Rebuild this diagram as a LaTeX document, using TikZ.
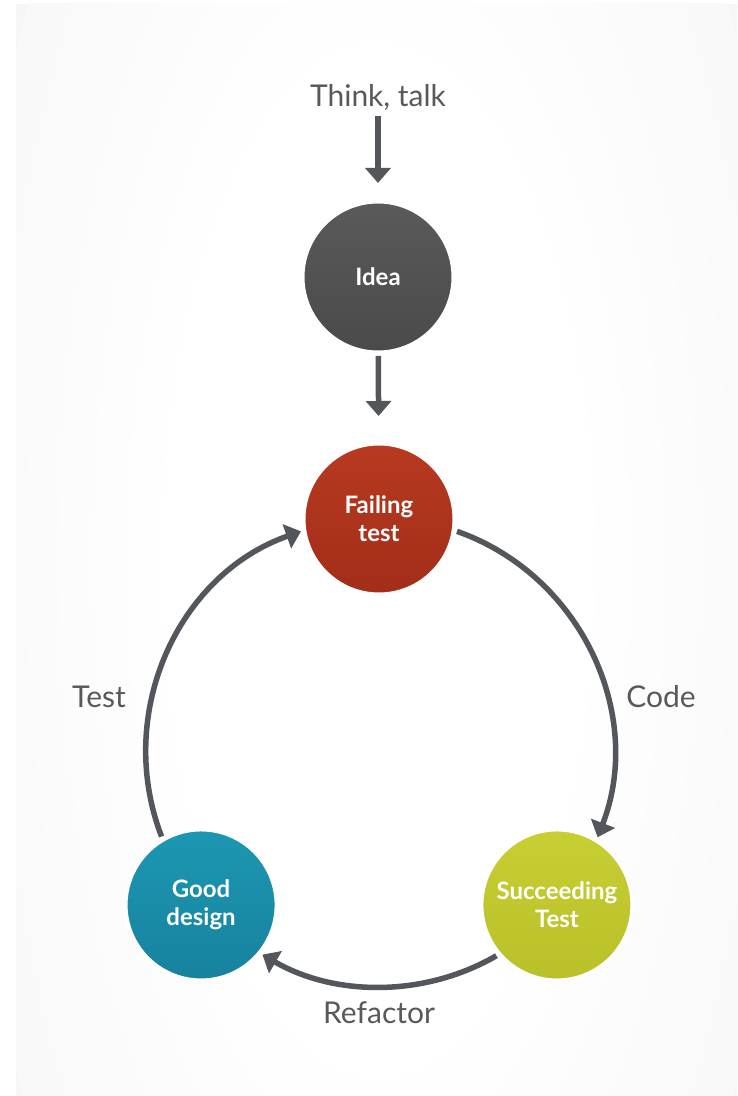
\documentclass[tikz,border=0pt]{standalone}
\usepackage{fontspec}
\setmainfont{Lato}
\usetikzlibrary{arrows.meta,calc}
\definecolor{bgc}{HTML}{F6F6F6}
\definecolor{arrc}{HTML}{53565A}
\definecolor{labc}{HTML}{58595B}
\definecolor{ideaT}{HTML}{5A5A5A}
\definecolor{ideaB}{HTML}{4A4A4A}
\definecolor{failT}{HTML}{B83A20}
\definecolor{failB}{HTML}{A22D19}
\definecolor{succT}{HTML}{C8CF33}
\definecolor{succB}{HTML}{B9C029}
\definecolor{goodT}{HTML}{1C97B3}
\definecolor{goodB}{HTML}{17829E}
\pgfdeclareradialshading{glow}{\pgfpoint{0bp}{0bp}}{color(0bp)=(white); color(12bp)=(white); color(30bp)=(bgc); color(50bp)=(bgc)}
\tikzset{
  stage/.style={circle, minimum size=150pt, inner sep=0pt, outer sep=4pt,
    draw=white, line width=3pt, text=white, align=center,
    font=\bfseries\fontsize{24}{28}\selectfont},
  lab/.style={text=labc, inner sep=0pt, font=\fontsize{30}{34}\selectfont},
  arr/.style={draw=arrc, line width=5.5pt, -{Triangle[length=15pt,width=25pt]}}
}
\begin{document}
\begin{tikzpicture}[x=1pt,y=1pt]
\useasboundingbox (0,0) rectangle (737,1096);
\fill[white] (0,0) rectangle (737,1096);
\begin{scope}
\clip (16,0) rectangle (737,1092);
\fill[bgc] (16,0) rectangle (737,1092);
\shade[shading=glow] (378,536) ellipse [x radius=420, y radius=1000];
\end{scope}

\coordinate (cyc) at (379,343);
\node[lab] (think) at (378,999) {Think, talk};
\node[stage, top color=ideaT, bottom color=ideaB] (idea) at (378,819) {Idea};
\node[stage, top color=failT, bottom color=failB] (fail) at ($(cyc)+(90:234)$) {Failing\\test};
\node[stage, top color=succT, bottom color=succB] (succ) at ($(cyc)+(-40.5:234)$) {Succeeding\\Test};
\node[stage, top color=goodT, bottom color=goodB] (good) at ($(cyc)+(-139.5:234)$) {Good\\design};

\node[lab] (code) at (661,399) {Code};
\node[lab] (test) at (99,399) {Test};
\node[lab] (refactor) at (379,83) {Refactor};

\draw[arr, shorten <=6pt, shorten >=15pt] (think) -- (idea);
\draw[arr, shorten >=24pt] (idea) -- (fail);
\draw[arr] (fail.-9.7) to[out=-19.4, in=68.9] (succ.59.2);
\draw[arr] (succ.-140.2) to[out=-149.9, in=-30.1, looseness=0.91] (good.-39.8);
\draw[arr] (good.120.8) to[out=111.1, in=199.4] (fail.189.7);
\end{tikzpicture}
\end{document}
